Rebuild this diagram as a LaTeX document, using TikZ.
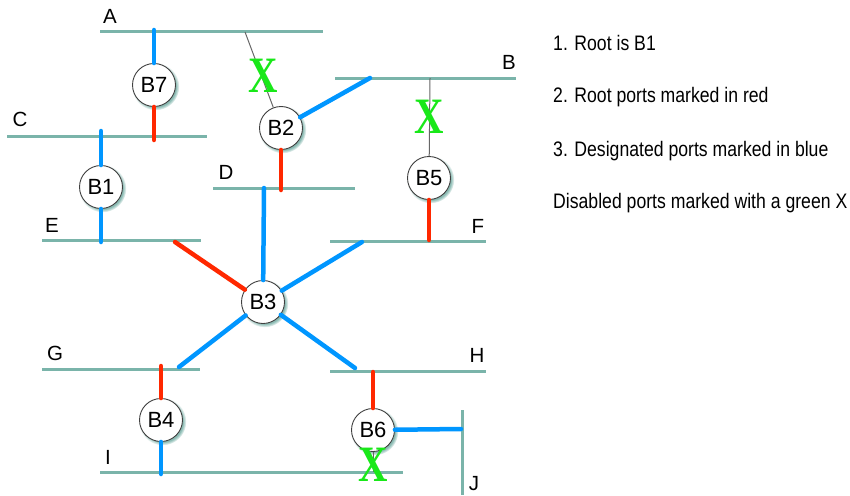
\documentclass[tikz,border=0pt]{standalone}
\usepackage{fontspec}
\setmainfont{Liberation Sans}
\newfontfamily\condfont[FakeStretch=0.84]{Liberation Sans}
\newfontfamily\xfont[FakeStretch=0.8, UprightFont={* Bold}]{Liberation Serif}
\usetikzlibrary{shadows}
\definecolor{segcol}{RGB}{122,180,170}
\definecolor{portblue}{RGB}{0,150,255}
\definecolor{portred}{RGB}{255,40,0}
\definecolor{xgreen}{RGB}{25,232,25}
\definecolor{shadowcol}{RGB}{110,170,160}
\tikzset{
  seg/.style={draw=segcol, line width=3pt},
  bridge/.style={circle, draw=black!75, line width=0.9pt, fill=white, minimum size=43pt, inner sep=0pt,
    font=\fontsize{22}{22}\selectfont,
    circular drop shadow={shadow xshift=1.5pt, shadow yshift=-1.5pt, fill=shadowcol, opacity=0.8}},
  rootp/.style={draw=portred, line width=4.5pt, line cap=round},
  desig/.style={draw=portblue, line width=4.5pt, line cap=round},
  disab/.style={draw=black!60, line width=1pt},
  segname/.style={font=\fontsize{20.5}{20.5}\selectfont, text=black},
  xmark/.style={font=\xfont\fontsize{51}{51}\selectfont, text=xgreen, inner sep=0pt},
  note/.style={anchor=base west, font=\condfont\fontsize{21}{21}\selectfont, inner sep=0pt}
}
\begin{document}
\begin{tikzpicture}[x=1pt,y=-1pt]
\useasboundingbox (0,0) rectangle (850,495);
% segments
\draw[seg] (100,32) -- (323,32);
\draw[seg] (335,78) -- (516,78);
\draw[seg] (7,136) -- (207,136);
\draw[seg] (213,188) -- (355,188);
\draw[seg] (42,240) -- (201,240);
\draw[seg] (330,241) -- (486,241);
\draw[seg] (42,369) -- (200,369);
\draw[seg] (330,371) -- (486,371);
\draw[seg] (100,472) -- (403,472);
\draw[seg] (462,410) -- (462,495);
% segment names
\node[segname] (lA) at (110,16) {A};
\node[segname] (lB) at (509,62) {B};
\node[segname] (lC) at (20,119) {C};
\node[segname] (lD) at (226,172) {D};
\node[segname] (lE) at (52,225) {E};
\node[segname] (lF) at (478,226) {F};
\node[segname] (lG) at (55,353) {G};
\node[segname] (lH) at (477,355) {H};
\node[segname] (lI) at (108,457) {I};
\node[segname] (lJ) at (474,484) {J};
% port coordinates on segments
\coordinate (a7) at (154,30);
\coordinate (c7) at (154,140);
\coordinate (a2) at (245,32);
\coordinate (b2) at (370,78);
\coordinate (d2) at (281,190);
\coordinate (c1) at (101,131);
\coordinate (e1) at (101,242);
\coordinate (b5) at (430,78);
\coordinate (f5) at (429,240);
\coordinate (e3) at (175,242);
\coordinate (d3) at (264,188);
\coordinate (f3) at (362,242);
\coordinate (g3) at (179,367);
\coordinate (h3) at (355,368);
\coordinate (g4) at (161,366);
\coordinate (i4) at (161,474);
\coordinate (h6) at (373,372);
\coordinate (j6) at (461,429);
\coordinate (i6) at (373,472);
% bridges
\node[bridge] (B7) at (154,85) {B7};
\node[bridge] (B2) at (281,128) {B2};
\node[bridge] (B1) at (101,187) {B1};
\node[bridge] (B5) at (429,178) {B5};
\node[bridge] (B3) at (263,302) {B3};
\node[bridge] (B4) at (161,420) {B4};
\node[bridge] (B6) at (373,430) {B6};
% ports
\draw[desig] (a7) -- (B7);
\draw[rootp] (B7) -- (c7);
\draw[disab] (a2) -- (B2);
\draw[desig] (B2) -- (b2);
\draw[rootp] (B2) -- (d2);
\draw[desig] (c1) -- (B1);
\draw[desig] (B1) -- (e1);
\draw[disab] (b5) -- (B5);
\draw[rootp] (B5) -- (f5);
\draw[rootp] (e3) -- (B3);
\draw[desig] (d3) -- (B3);
\draw[desig] (f3) -- (B3);
\draw[desig] (B3) -- (g3);
\draw[desig] (B3) -- (h3);
\draw[rootp] (g4) -- (B4);
\draw[desig] (B4) -- (i4);
\draw[rootp] (h6) -- (B6);
\draw[desig] (B6) -- (j6);
\draw[disab] (B6) -- (i6);
% disabled marks
\node[xmark] (x2) at (263,76) {X};
\node[xmark] (x5) at (429,117) {X};
\node[xmark] (x6) at (373,465) {X};
% notes
\node[note] (n1) at (553,50) {1. Root is B1};
\node[note] (n2) at (553,102) {2. Root ports marked in red};
\node[note] (n3) at (553,156) {3. Designated ports marked in blue};
\node[note] (n4) at (553,208) {Disabled ports marked with a green X};
\end{tikzpicture}
\end{document}
